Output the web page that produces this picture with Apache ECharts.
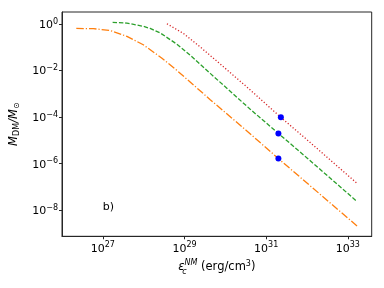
<!DOCTYPE html>
<html>
<head>
<meta charset="utf-8">
<script src="https://cdn.jsdelivr.net/npm/echarts@6/dist/echarts.min.js"></script>
<style>html,body{margin:0;padding:0;background:#fff}#c{width:384px;height:288px}</style>
</head>
<body>
<div id="c"></div>
<script>
// log10 values
var orangeLogEps = [26.35, 26.77, 27.18, 27.59, 27.99, 28.44, 28.81, 29.06, 29.63, 30.5, 31.30, 32.0, 33.23];
var orangeLogM   = [-0.19, -0.20, -0.28, -0.53, -0.89, -1.46, -1.99, -2.37, -3.25, -4.55, -5.78, -6.83, -8.68];
var greenLogEps  = [27.24, 27.59, 27.99, 28.16, 28.41, 28.81, 29.14, 29.63, 30.61, 31.30, 32.0, 33.23];
var greenLogM    = [0.07, 0.04, -0.10, -0.19, -0.39, -0.86, -1.34, -2.12, -3.66, -4.70, -5.75, -7.63];
var redLogEps    = [28.57, 28.97, 29.38, 29.83, 30.59, 31.06, 31.36, 32.0, 33.23];
var redLogM      = [0.01, -0.40, -0.98, -1.65, -2.80, -3.54, -4.01, -4.97, -6.85];
var pointLogEps  = [31.30, 31.30, 31.36];
var pointLogM    = [-5.78, -4.70, -4.01];
var xTicks = [27, 29, 31, 33];
var yTicks = [-8, -6, -4, -2, 0];
var panelLabel = 'b)';

function pairs(xs, ys){ return xs.map(function(x,i){ return [x, ys[i]]; }); }
function sup(v){ var s = v < 0 ? '\u2212' + (-v) : '' + v; return '{b|10}{s|' + s + '}'; }
var FONT = 'DejaVu Sans';
var tickRich = {
  b: {fontFamily: FONT, fontSize: 11, color: '#000', verticalAlign: 'bottom'},
  s: {fontFamily: FONT, fontSize: 8, color: '#000', verticalAlign: 'bottom', padding: [0,0,5,0]}
};
var chart = echarts.init(document.getElementById('c'), null, {renderer: 'canvas'});
chart.setOption({
  animation: false,
  backgroundColor: '#fff',
  grid: {left: 62, top: 12, right: 12.3, bottom: 51.7, show: true, borderColor: '#262626', borderWidth: 1, backgroundColor: 'transparent'},
  xAxis: {
    type: 'value', min: 26.0, max: 33.585,
    axisLine: {show: true, onZero: false, lineStyle: {color: '#262626', width: 1}},
    axisTick: {show: true, length: 3, customValues: xTicks, lineStyle: {color: '#262626'}},
    axisLabel: {customValues: xTicks, margin: 5, formatter: function(v){ return sup(v); }, rich: tickRich},
    splitLine: {show: false},
    name: '{e|\u03b5}{sc|c}{sn|NM}{t| (erg/cm}{t3|3}{t|)}',
    nameLocation: 'middle', nameGap: 18,
    nameTextStyle: {rich: {
      e: {fontFamily: FONT, fontSize: 11.5, fontStyle: 'italic', color: '#000', verticalAlign: 'bottom', padding: [0,0,3,0]},
      sc: {fontFamily: FONT, fontSize: 8, fontStyle: 'italic', color: '#000', verticalAlign: 'bottom', width: 0.01, padding: [0,0,0,0]},
      sn: {fontFamily: FONT, fontSize: 8, fontStyle: 'italic', color: '#000', verticalAlign: 'bottom', padding: [0,0,9,0]},
      t: {fontFamily: FONT, fontSize: 11.5, color: '#000', verticalAlign: 'bottom', padding: [0,0,3,0]},
      t3: {fontFamily: FONT, fontSize: 8, color: '#000', verticalAlign: 'bottom', padding: [0,0,8,0]}
    }}
  },
  yAxis: {
    type: 'value', min: -9.118, max: 0.516,
    axisLine: {show: true, onZero: false, lineStyle: {color: '#262626', width: 1}},
    axisTick: {show: true, length: 3, customValues: yTicks, lineStyle: {color: '#262626'}},
    axisLabel: {customValues: yTicks, margin: 4, formatter: function(v){ return sup(v); }, rich: tickRich},
    splitLine: {show: false},
    name: '{m|M}{d|DM}{m|/}{m|M}{d|\u2299}',
    nameLocation: 'middle', nameGap: 34,
    nameTextStyle: {rich: {
      m: {fontFamily: FONT, fontSize: 11.5, fontStyle: 'italic', color: '#000', verticalAlign: 'top'},
      d: {fontFamily: FONT, fontSize: 8, color: '#000', verticalAlign: 'top', padding: [5,0,0,0]}
    }}
  },
  series: [
    {type: 'line', data: pairs(orangeLogEps, orangeLogM), showSymbol: false, symbol: 'none',
     lineStyle: {color: '#ff7f0e', width: 1.3, type: [7.5, 2, 1.2, 2]}},
    {type: 'line', data: pairs(greenLogEps, greenLogM), showSymbol: false, symbol: 'none',
     lineStyle: {color: '#2ca02c', width: 1.3, type: [4.4, 1.9]}},
    {type: 'line', data: pairs(redLogEps, redLogM), showSymbol: false, symbol: 'none',
     lineStyle: {color: '#d62728', width: 1.3, type: [1.2, 2]}},
    {type: 'scatter', data: pairs(pointLogEps, pointLogM), symbol: 'circle', symbolSize: 6,
     itemStyle: {color: '#0000ff', opacity: 1}, z: 5}
  ]
});
var p = chart.convertToPixel({gridIndex: 0}, [27.0, -7.85]);
chart.setOption({graphic: [{type: 'text', x: p[0], y: p[1], style: {text: panelLabel, fontFamily: FONT, fontSize: 11, fill: '#000', verticalAlign: 'middle', align: 'left'}}]});
</script>
</body>
</html>
